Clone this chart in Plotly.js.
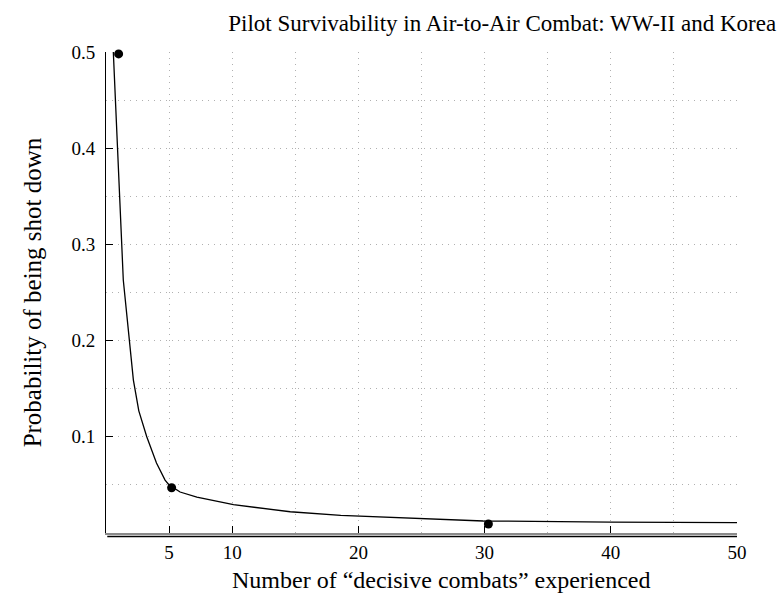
<!DOCTYPE html>
<html>
<head>
<meta charset="utf-8">
<script src="https://cdn.plot.ly/plotly-3.0.1.min.js"></script>
<style>html,body{margin:0;padding:0;background:#fff;}#chart{width:781px;height:608px;}</style>
</head>
<body>
<div id="chart"></div>
<script>
// Fitted survivability curve
const curveX = [0.58, 1.37, 2.17, 2.6, 3.23, 4.0, 4.68, 5.0, 5.87, 7.2, 10.1, 14.6, 18.6, 23.3, 29.9, 40, 50];
const curveY = [0.5, 0.263, 0.159, 0.127, 0.1, 0.0727, 0.055, 0.05, 0.0426, 0.0374, 0.0294, 0.0221, 0.0183, 0.0156, 0.0125, 0.0114, 0.0107];
// Observed data points
const obsX = [1.0, 5.2, 30.3];
const obsY = [0.498, 0.047, 0.0093];
// Tick labels
const xTicks = [5, 10, 20, 30, 40, 50];
const yTicks = [0.1, 0.2, 0.3, 0.4, 0.5];

const FONT = 'Liberation Serif, Times New Roman, serif';
const gridStyle = {color: '#b0b0b0', dash: '1px,5px'};

const traces = [
  {x: curveX, y: curveY, type: 'scatter', mode: 'lines',
   line: {color: '#000', width: 1.3}, hoverinfo: 'skip', showlegend: false, cliponaxis: false},
  {x: obsX, y: obsY, type: 'scatter', mode: 'markers',
   marker: {color: '#000', size: 9}, showlegend: false, cliponaxis: false}
];

const layout = {
  width: 781, height: 608,
  paper_bgcolor: '#fff', plot_bgcolor: '#fff',
  margin: {l: 106, r: 44, t: 52, b: 75},
  font: {family: FONT, color: '#000', size: 19},
  title: {text: 'Pilot Survivability in Air-to-Air Combat: WW-II and Korea',
          font: {family: FONT, size: 23, color: '#000'},
          xref: 'container', x: 0.643, xanchor: 'center',
          yref: 'container', y: 0.962, yanchor: 'middle'},
  xaxis: {
    range: [0, 50], tickvals: xTicks, ticktext: xTicks.map(String),
    ticks: 'inside', ticklen: 7, tickcolor: '#000', tickwidth: 1,
    showline: true, linecolor: '#8a8a8a', linewidth: 2,
    showgrid: true, gridcolor: gridStyle.color, griddash: gridStyle.dash, gridwidth: 1,
    minor: {dtick: 5, tick0: 0, showgrid: true, gridcolor: gridStyle.color, griddash: gridStyle.dash, ticks: ''},
    zeroline: false, tickfont: {size: 19, family: FONT}, ticklabelstandoff: 1
  },
  yaxis: {
    range: [0, 0.5], tickvals: yTicks, ticktext: yTicks.map(String),
    ticks: 'inside', ticklen: 7, tickcolor: '#000', tickwidth: 1,
    showline: true, linecolor: '#000', linewidth: 1,
    showgrid: true, gridcolor: gridStyle.color, griddash: gridStyle.dash, gridwidth: 1,
    minor: {dtick: 0.05, tick0: 0, showgrid: true, gridcolor: gridStyle.color, griddash: gridStyle.dash, ticks: ''},
    zeroline: false, tickfont: {size: 19, family: FONT}, ticklabelstandoff: 6,
    title: {text: 'Probability of being shot down', font: {size: 25, family: FONT}, standoff: 22}
  },
  annotations: [
    {text: 'Number of \u201cdecisive combats\u201d experienced', xref: 'paper', yref: 'paper',
     x: 0.531, y: -0.097, xanchor: 'center', yanchor: 'middle', showarrow: false,
     font: {size: 24, family: FONT, color: '#000'}}
  ],
  shapes: [
    {type: 'line', xref: 'paper', yref: 'paper', x0: 0.002, x1: 1.0, y0: -0.0075, y1: -0.0075,
     line: {color: '#000', width: 1.5}}
  ]
};

Plotly.newPlot('chart', traces, layout, {displayModeBar: false, staticPlot: true});
</script>
</body>
</html>
